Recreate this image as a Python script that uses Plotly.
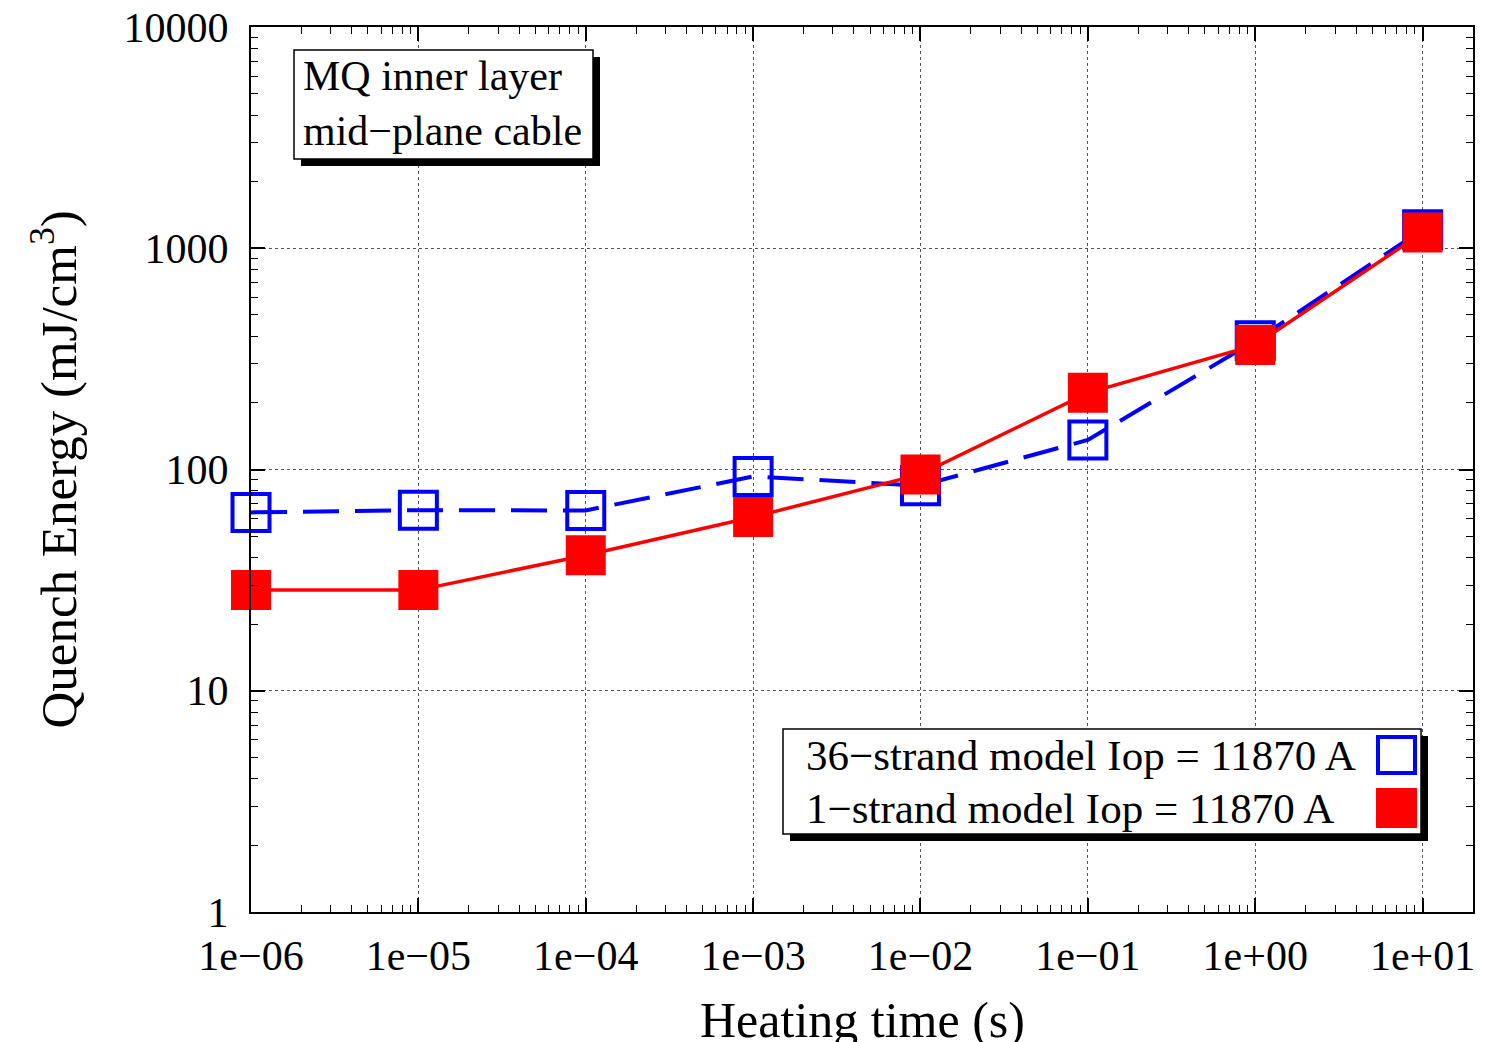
import plotly.graph_objects as go

# Heating times (s) and quench energies (mJ/cm^3)
heating_time = [1e-6, 1e-5, 1e-4, 1e-3, 1e-2, 1e-1, 1e0, 1e1]
energy_36_strand = [64, 65.5, 65.3, 93, 84.5, 136, 382, 1213]
energy_1_strand = [28.5, 28.5, 41, 61, 95, 222, 365, 1177]

x_tick_vals = [1e-6, 1e-5, 1e-4, 1e-3, 1e-2, 1e-1, 1e0, 1e1]
x_tick_text = ["1e\u221206", "1e\u221205", "1e\u221204", "1e\u221203",
               "1e\u221202", "1e\u221201", "1e+00", "1e+01"]
y_tick_vals = [1, 10, 100, 1000, 10000]
y_tick_text = ["1", "10", "100", "1000", "10000"]

label_36 = "36\u2212strand model Iop = 11870 A"
label_1 = "1\u2212strand model Iop = 11870 A"
box_text = "MQ inner layer<br>mid\u2212plane cable"

FONT = "Liberation Serif"
W, H = 1485, 1042
L, R, T, B = 251, 1473, 27, 912  # plot-area edges in pixels


def px(x):
    return (x - L) / (R - L)


def py(y):
    return (B - y) / (B - T)


x_minor = [m * 10.0 ** e for e in range(-6, 2) for m in range(2, 10)]
y_minor = [m * 10.0 ** e for e in range(0, 4) for m in range(2, 10)]

fig = go.Figure()

fig.add_trace(go.Scatter(
    x=heating_time, y=energy_36_strand, mode="lines+markers", name=label_36,
    line=dict(color="#0000ff", width=4, dash="36px,16px"),
    marker=dict(symbol="square-open", size=37, color="#0000ff",
                line=dict(color="#0000ff", width=4)),
    cliponaxis=False, showlegend=False,
))
fig.add_trace(go.Scatter(
    x=heating_time, y=energy_1_strand, mode="lines+markers", name=label_1,
    line=dict(color="#ff0000", width=3.5),
    marker=dict(symbol="square", size=40, color="#ff0000", line=dict(width=0)),
    cliponaxis=False, showlegend=False,
))

axis_common = dict(
    type="log", showline=True, linecolor="black", linewidth=2, mirror="ticks",
    ticks="inside", ticklen=14, tickwidth=1.5, tickcolor="black",
    showgrid=True, gridcolor="#555555", griddash="dot", gridwidth=1,
    zeroline=False, tickmode="array", automargin=False,
    tickfont=dict(family=FONT, size=42, color="black"),
)

fig.update_xaxes(
    **axis_common, range=[-6, 1.30103], ticklabelstandoff=6,
    tickvals=x_tick_vals, ticktext=x_tick_text,
    minor=dict(tickmode="array", tickvals=x_minor, ticks="inside",
               ticklen=7, tickwidth=1.2, tickcolor="black", showgrid=False),
)
fig.update_yaxes(
    **axis_common, range=[0, 4], ticklabelstandoff=12,
    tickvals=y_tick_vals, ticktext=y_tick_text,
    minor=dict(tickmode="array", tickvals=y_minor, ticks="inside",
               ticklen=7, tickwidth=1.2, tickcolor="black", showgrid=False),
)

shapes = []
annotations = []


def framed_box(x0, y0, x1, y1, shadow=7):
    shapes.append(dict(type="rect", xref="paper", yref="paper", layer="above",
                       x0=px(x0 + shadow), x1=px(x1 + shadow),
                       y0=py(y1 + shadow), y1=py(y0 + shadow),
                       fillcolor="black", line=dict(width=0)))
    shapes.append(dict(type="rect", xref="paper", yref="paper", layer="above",
                       x0=px(x0), x1=px(x1), y0=py(y1), y1=py(y0),
                       fillcolor="white", line=dict(color="black", width=1.5)))


# annotation box in the upper left
framed_box(294, 50, 593, 159)
annotations.append(dict(
    xref="paper", yref="paper", x=px(301), y=py(103), xanchor="left",
    yanchor="middle", text=box_text, showarrow=False, align="left",
    font=dict(family=FONT, size=42, color="black")))

# legend box in the lower right
framed_box(783, 729, 1421, 834)
annotations.append(dict(
    xref="paper", yref="paper", x=px(804), y=py(755), xanchor="left",
    yanchor="middle", text=label_36, showarrow=False,
    font=dict(family=FONT, size=43, color="black")))
annotations.append(dict(
    xref="paper", yref="paper", x=px(804), y=py(808), xanchor="left",
    yanchor="middle", text=label_1, showarrow=False,
    font=dict(family=FONT, size=43, color="black")))
shapes.append(dict(type="rect", xref="paper", yref="paper", layer="above",
                   x0=px(1378), x1=px(1415), y0=py(773), y1=py(737),
                   fillcolor="rgba(0,0,0,0)", line=dict(color="#0000ff", width=4)))
shapes.append(dict(type="rect", xref="paper", yref="paper", layer="above",
                   x0=px(1376), x1=px(1417), y0=py(828), y1=py(788),
                   fillcolor="#ff0000", line=dict(width=0)))

# axis titles
annotations.append(dict(
    xref="paper", yref="paper", x=0.5, y=py(1020), xanchor="center",
    yanchor="middle", text="Heating time (s)", showarrow=False,
    font=dict(family=FONT, size=50, color="black")))
annotations.append(dict(
    xref="paper", yref="paper", x=px(54), y=0.5, xanchor="center",
    yanchor="middle", text="Quench Energy (mJ/cm<sup>3</sup>)", showarrow=False,
    textangle=-90, font=dict(family=FONT, size=51, color="black")))

fig.update_layout(
    width=W, height=H,
    margin=dict(l=L, r=W - R, t=T, b=H - B),
    paper_bgcolor="white", plot_bgcolor="white",
    shapes=shapes, annotations=annotations,
    showlegend=False,
)

fig.write_html("out.html")
